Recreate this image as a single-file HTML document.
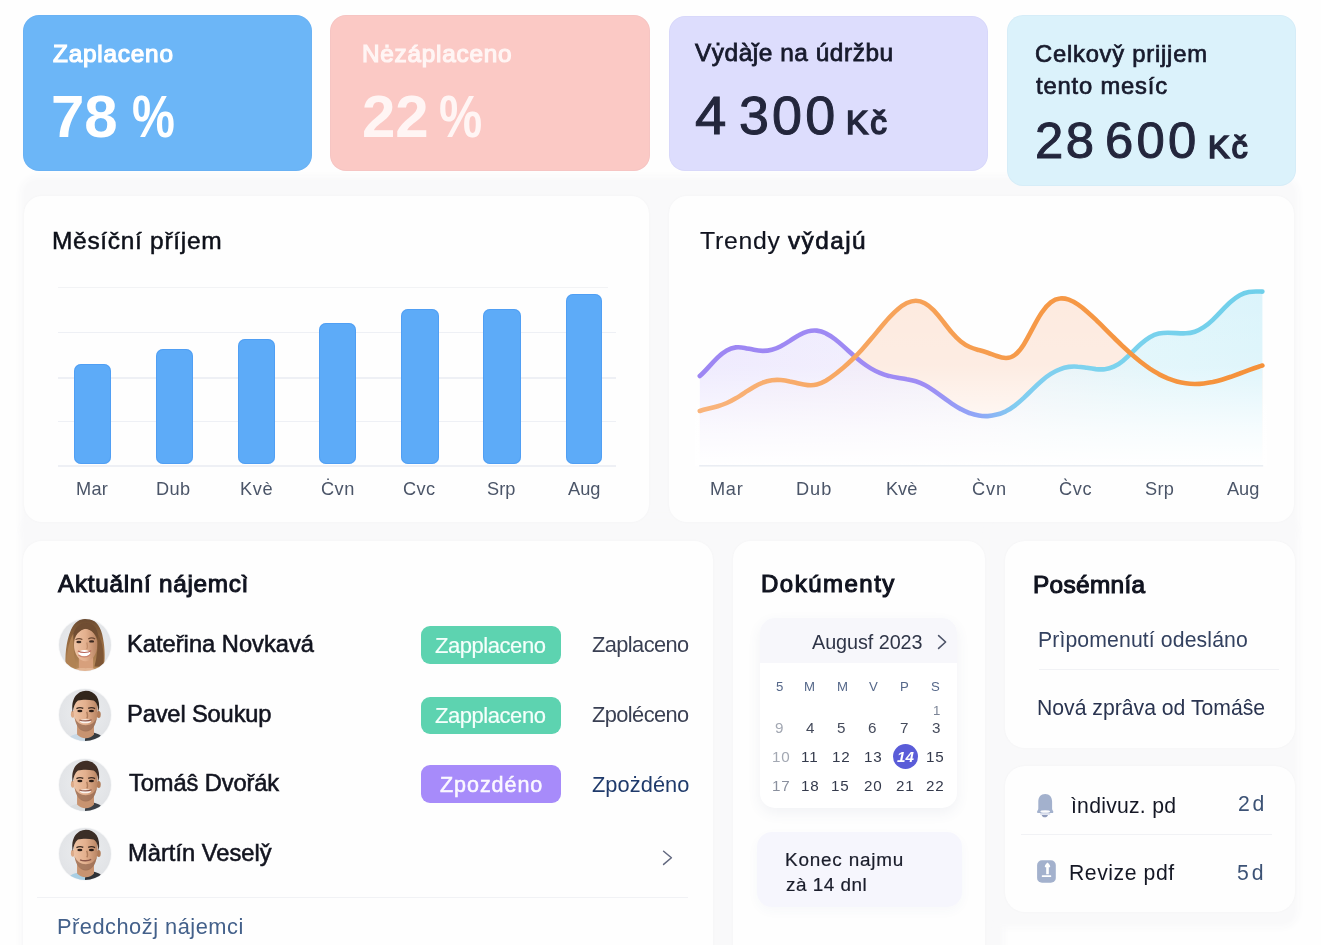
<!DOCTYPE html>
<html lang="cs">
<head>
<meta charset="utf-8">
<title>Přehled nájmů</title>
<style>
*{box-sizing:border-box}
html,body{margin:0;padding:0}
body{width:1321px;height:945px;overflow:hidden;position:relative;background:#fefefe;
  font-family:"Liberation Sans",sans-serif;-webkit-font-smoothing:antialiased}
.t{position:absolute;white-space:pre;line-height:1;margin:0;font-weight:400}
.stat,.card,.abs{position:absolute}
.stat{border-radius:16px;box-shadow:inset 0 0 0 1px rgba(40,60,120,.025)}
.card{background:#fefefe;border-radius:18px;box-shadow:0 0 3px rgba(40,45,70,.03)}
.back{position:absolute;border-radius:14px;background:#f9f9fa;box-shadow:0 0 7px 4px #f9f9fa}
.bar{position:absolute;background:#5dabf8;border-radius:7px;box-shadow:inset 0 0 0 1px rgba(70,150,240,.55)}
.grid{position:absolute;height:1.3px;background:#eef0f5}
.rule{position:absolute;height:1.2px;background:#f1f2f5}
.badge{position:absolute;border-radius:9px}
.ava{position:absolute;width:54px;height:54px}
svg{display:block;overflow:visible}
</style>
</head>
<body>
<div class="back" style="left:24px;top:180px;width:1271px;height:360px"></div>
<div class="back" style="left:24px;top:520px;width:976px;height:460px"></div>
<div class="back" style="left:990px;top:520px;width:305px;height:404px"></div>
<section class="stat" style="left:23px;top:15.4px;width:289.2px;height:155.4px;background:#6cb6f7">
<h3 class="t" style="left:30px;top:26.6px;font-size:24.3px;color:#ffffff;letter-spacing:0.81px;-webkit-text-stroke:1.2px #ffffff;">Zaplaceno</h3>
<p class="t" style="left:0;top:0"><span class="t" style="left:28px;top:71.6px;font-size:60px;color:#ffffff;font-weight:700;">78</span> <span class="t" style="left:109px;top:71.6px;font-size:60px;color:#ffffff;font-weight:700;transform:scaleX(0.804);transform-origin:0 0;">%</span></p>
</section>
<section class="stat" style="left:330.2px;top:15.4px;width:319.4px;height:155.2px;background:#fbc9c5">
<h3 class="t" style="left:31.8px;top:26.6px;font-size:24.3px;color:#fff5f4;letter-spacing:0.77px;-webkit-text-stroke:1.2px #fff5f4;">Nėzáplaceno</h3>
<p class="t" style="left:0;top:0"><span class="t" style="left:31.8px;top:71.6px;font-size:60px;color:#fff5f4;font-weight:700;">22</span> <span class="t" style="left:108.8px;top:71.6px;font-size:60px;color:#fff5f4;font-weight:700;transform:scaleX(0.81);transform-origin:0 0;">%</span></p>
</section>
<section class="stat" style="left:669.2px;top:15.5px;width:318.4px;height:155.1px;background:#ddddfd">
<h3 class="t" style="left:25.8px;top:25.5px;font-size:24.4px;color:#171a2c;letter-spacing:0.55px;-webkit-text-stroke:0.8px #171a2c;">Vẏdàǰe na údržbu</h3>
<p class="t" style="left:0;top:0"><span class="t" style="left:25.8px;top:73.5px;font-size:53.9px;color:#23263c;-webkit-text-stroke:1px #23263c;transform:scaleX(1.045);transform-origin:0 0;">4</span> <span class="t" style="left:69.8px;top:73.5px;font-size:53.9px;color:#23263c;letter-spacing:3.16px;-webkit-text-stroke:1px #23263c;">300</span> <span class="t" style="left:176.8px;top:90.5px;font-size:33.2px;color:#23263c;letter-spacing:2.12px;-webkit-text-stroke:1.7px #23263c;">Kč</span></p>
</section>
<section class="stat" style="left:1007.3px;top:15.4px;width:288.6px;height:170.2px;background:#dbf2fb">
<h3 class="t" style="left:0;top:0"><span class="t" style="left:27.7px;top:26.6px;font-size:23.8px;color:#171a2c;letter-spacing:0.76px;-webkit-text-stroke:0.7px #171a2c;">Celkovy̌ prijjem</span> <span class="t" style="left:28.7px;top:58.6px;font-size:23.8px;color:#171a2c;letter-spacing:0.81px;-webkit-text-stroke:0.7px #171a2c;">tento mesíc</span></h3>
<p class="t" style="left:0;top:0"><span class="t" style="left:27.7px;top:100.6px;font-size:50.8px;color:#23263c;letter-spacing:2.42px;-webkit-text-stroke:1px #23263c;">28</span> <span class="t" style="left:97.7px;top:100.6px;font-size:50.8px;color:#23263c;letter-spacing:3.27px;-webkit-text-stroke:1px #23263c;">600</span> <span class="t" style="left:200.7px;top:115.6px;font-size:32.2px;color:#23263c;letter-spacing:2.1px;-webkit-text-stroke:1.7px #23263c;">Kč</span></p>
</section>
<section class="card" style="left:23.5px;top:196.2px;width:625.6px;height:325.6px">
<h2 class="t" style="left:28.5px;top:32.8px;font-size:24.5px;color:#0d1019;letter-spacing:0.69px;-webkit-text-stroke:0.5px #0d1019;">Měsíční příjem</h2>
<div class="grid" style="left:34.5px;top:90.6px;width:550px;background:#f2f3f5"></div>
<div class="grid" style="left:34.5px;top:135.7px;width:558px"></div>
<div class="grid" style="left:34.5px;top:181.2px;width:558px"></div>
<div class="grid" style="left:34.5px;top:224.6px;width:558px"></div>
<div class="grid" style="left:34.5px;top:269.2px;width:558px"></div>
<div class="bar" style="left:50.5px;top:168.3px;width:37px;height:99.7px"></div>
<div class="bar" style="left:132.5px;top:153.3px;width:37px;height:114.7px"></div>
<div class="bar" style="left:214.5px;top:143.3px;width:37px;height:124.7px"></div>
<div class="bar" style="left:295.9px;top:126.8px;width:36.9px;height:141.2px"></div>
<div class="bar" style="left:377.3px;top:113px;width:38.2px;height:155px"></div>
<div class="bar" style="left:459.5px;top:113px;width:37.8px;height:155px"></div>
<div class="bar" style="left:542.4px;top:98.3px;width:36.3px;height:169.7px"></div>
<span class="t" style="left:52.5px;top:283.8px;font-size:18.2px;color:#4b5568;letter-spacing:0.28px;">Mar</span>
<span class="t" style="left:132.5px;top:283.8px;font-size:18.2px;color:#4b5568;letter-spacing:0.34px;">Dub</span>
<span class="t" style="left:216.5px;top:283.8px;font-size:18.2px;color:#4b5568;letter-spacing:0.67px;">Kvè</span>
<span class="t" style="left:297.5px;top:283.8px;font-size:18.2px;color:#4b5568;letter-spacing:0.45px;">Ċvn</span>
<span class="t" style="left:379.5px;top:283.8px;font-size:18.2px;color:#4b5568;letter-spacing:0.43px;">Cvc</span>
<span class="t" style="left:463.5px;top:283.8px;font-size:18.2px;color:#4b5568;">Srp</span>
<span class="t" style="left:544.5px;top:283.8px;font-size:18.2px;color:#4b5568;">Aug</span>
</section>
<section class="card" style="left:668.8px;top:196.2px;width:625.6px;height:325.6px">
<h2 class="t" style="left:0;top:0"><span class="t" style="left:31.2px;top:32.8px;font-size:24.8px;color:#10131f;letter-spacing:0.74px;-webkit-text-stroke:0.15px #10131f;">Trendy</span> <span class="t" style="left:119.2px;top:32.8px;font-size:24.4px;color:#10131f;letter-spacing:1.42px;-webkit-text-stroke:0.7px #10131f;">vy̌dajú</span></h2>
<svg class="abs" style="left:0;top:0" width="625.6" height="325.6" viewBox="668.8 196.2 625.6 325.6">
<defs>
<linearGradient id="gl" gradientUnits="userSpaceOnUse" x1="699" y1="0" x2="1263" y2="0">
<stop offset="0" stop-color="#9d86f3"/><stop offset=".40" stop-color="#9f8cf4"/><stop offset=".50" stop-color="#8fa9f7"/>
<stop offset=".56" stop-color="#82cdf0"/><stop offset=".7" stop-color="#7dd3ee"/><stop offset="1" stop-color="#6fcfea"/>
</linearGradient>
<linearGradient id="go" gradientUnits="userSpaceOnUse" x1="699" y1="0" x2="1263" y2="0">
<stop offset="0" stop-color="#f9b47c"/><stop offset=".3" stop-color="#f7a55e"/><stop offset=".6" stop-color="#f69947"/><stop offset="1" stop-color="#f5913a"/>
</linearGradient>
<linearGradient id="fl" gradientUnits="userSpaceOnUse" x1="699" y1="0" x2="1263" y2="0">
<stop offset="0" stop-color="#ebe6fe" stop-opacity=".9"/><stop offset=".3" stop-color="#eeeafd" stop-opacity=".85"/><stop offset=".5" stop-color="#eef0fc" stop-opacity=".8"/>
<stop offset=".62" stop-color="#e4f4fb" stop-opacity=".85"/><stop offset=".8" stop-color="#def5fb" stop-opacity=".95"/><stop offset="1" stop-color="#dbf4fb"/>
</linearGradient>
<linearGradient id="fade" x1="0" y1="0" x2="0" y2="1">
<stop offset="0" stop-color="#fff" stop-opacity="0"/><stop offset=".45" stop-color="#fff" stop-opacity=".12"/><stop offset=".8" stop-color="#fff" stop-opacity=".75"/><stop offset="1" stop-color="#fff" stop-opacity="1"/>
</linearGradient>
</defs>
<path d="M699.6,411.2 C702.6,410.2 705.6,409.5 708.6,408.8 C711.6,408.1 714.6,407.4 717.6,406.5 C720.6,405.6 723.6,404.5 726.6,403.2 C729.6,401.9 732.6,400.3 735.6,398.5 C738.6,396.8 741.6,394.8 744.6,392.8 C747.6,390.9 750.6,388.9 753.6,387.2 C756.6,385.4 759.6,383.9 762.6,382.8 C765.6,381.6 768.6,380.9 771.6,380.4 C774.6,380.0 777.6,380.0 780.6,380.2 C783.6,380.4 786.6,380.9 789.6,381.6 C792.6,382.2 795.6,383.0 798.6,383.7 C801.6,384.4 804.6,385.0 807.6,385.3 C810.6,385.6 813.6,385.5 816.6,384.8 C819.6,384.1 822.6,382.7 825.6,381.0 C828.6,379.2 831.6,377.0 834.6,374.7 C837.6,372.4 840.6,369.9 843.6,367.4 C846.6,364.8 849.6,362.1 852.6,359.2 C855.6,356.3 858.6,353.2 861.6,349.9 C864.6,346.6 867.6,343.1 870.6,339.5 C873.6,336.0 876.6,332.3 879.6,328.7 C882.6,325.1 885.6,321.5 888.6,318.2 C891.6,315.0 894.6,311.9 897.6,309.4 C900.6,306.8 903.6,304.7 906.6,303.2 C909.6,301.8 912.6,300.9 915.6,300.9 C918.6,300.9 921.6,301.7 924.6,303.4 C927.6,305.0 930.6,307.5 933.6,310.6 C936.6,313.8 939.6,317.5 942.6,321.4 C945.6,325.2 948.6,329.2 951.6,332.7 C954.6,336.2 957.6,339.2 960.6,341.7 C963.6,344.1 966.6,345.9 969.6,347.2 C972.6,348.6 975.6,349.4 978.6,350.3 C981.6,351.1 984.6,352.0 987.6,353.0 C990.6,354.0 993.6,355.2 996.6,356.2 C999.6,357.3 1002.6,358.2 1005.6,358.2 C1008.6,358.3 1011.6,357.5 1014.6,355.2 C1017.6,353.0 1020.6,349.3 1023.6,344.6 C1026.6,339.8 1029.6,334.0 1032.6,328.3 C1035.6,322.6 1038.6,317.1 1041.6,312.7 C1044.6,308.2 1047.6,304.9 1050.6,302.6 C1053.6,300.3 1056.6,299.0 1059.6,298.7 C1062.6,298.3 1065.6,298.8 1068.6,299.8 C1071.6,300.9 1074.6,302.6 1077.6,304.6 C1080.6,306.6 1083.6,309.0 1086.6,311.6 C1089.6,314.2 1092.6,317.0 1095.6,319.9 C1098.6,322.8 1101.6,325.8 1104.6,328.8 C1107.6,331.8 1110.6,334.8 1113.6,337.7 C1116.6,340.7 1119.6,343.6 1122.6,346.5 C1125.6,349.3 1128.6,352.1 1131.6,354.7 C1134.6,357.3 1137.6,359.8 1140.6,362.2 C1143.6,364.5 1146.6,366.7 1149.6,368.8 C1152.6,370.8 1155.6,372.6 1158.6,374.3 C1161.6,375.9 1164.6,377.3 1167.6,378.6 C1170.6,379.8 1173.6,380.9 1176.6,381.7 C1179.6,382.5 1182.6,383.1 1185.6,383.5 C1188.6,384.0 1191.6,384.2 1194.6,384.2 C1197.6,384.2 1200.6,384.1 1203.6,383.7 C1206.6,383.4 1209.6,382.9 1212.6,382.3 C1215.6,381.6 1218.6,380.8 1221.6,379.9 C1224.6,379.0 1227.6,378.0 1230.6,377.0 C1233.6,375.9 1236.6,374.8 1239.6,373.7 C1242.6,372.5 1245.6,371.4 1248.6,370.3 C1251.6,369.2 1254.6,368.1 1257.6,367.2 C1259.1,366.7 1260.7,366.2 1262.2,365.8 L1262.2,466 L699.6,466 Z" fill="#fdeadf"/>
<path d="M699.6,376.3 C702.6,373.7 705.6,370.4 708.6,367.1 C711.6,363.7 714.6,360.4 717.6,357.5 C720.6,354.6 723.6,352.3 726.6,350.6 C729.6,348.9 732.6,348.0 735.6,347.6 C738.6,347.3 741.6,347.6 744.6,348.1 C747.6,348.7 750.6,349.4 753.6,350.0 C756.6,350.6 759.6,351.0 762.6,351.1 C765.6,351.1 768.6,350.8 771.6,350.0 C774.6,349.2 777.6,348.0 780.6,346.4 C783.6,344.9 786.6,343.0 789.6,341.1 C792.6,339.1 795.6,337.1 798.6,335.5 C801.6,333.8 804.6,332.4 807.6,331.6 C810.6,330.8 813.6,330.5 816.6,330.8 C819.6,331.1 822.6,332.0 825.6,333.5 C828.6,334.9 831.6,336.9 834.6,339.2 C837.6,341.5 840.6,344.1 843.6,346.8 C846.6,349.5 849.6,352.3 852.6,355.0 C855.6,357.6 858.6,360.1 861.6,362.5 C864.6,364.8 867.6,366.8 870.6,368.6 C873.6,370.4 876.6,371.9 879.6,373.1 C882.6,374.4 885.6,375.4 888.6,376.1 C891.6,376.9 894.6,377.5 897.6,377.9 C900.6,378.4 903.6,378.8 906.6,379.4 C909.6,379.9 912.6,380.5 915.6,381.4 C918.6,382.3 921.6,383.6 924.6,385.2 C927.6,386.7 930.6,388.7 933.6,390.8 C936.6,392.9 939.6,395.1 942.6,397.4 C945.6,399.6 948.6,401.8 951.6,403.8 C954.6,405.8 957.6,407.7 960.6,409.3 C963.6,411.0 966.6,412.4 969.6,413.4 C972.6,414.5 975.6,415.3 978.6,415.8 C981.6,416.3 984.6,416.4 987.6,416.3 C990.6,416.1 993.6,415.6 996.6,414.8 C999.6,414.1 1002.6,412.9 1005.6,411.5 C1008.6,410.0 1011.6,408.1 1014.6,405.8 C1017.6,403.6 1020.6,400.9 1023.6,398.1 C1026.6,395.2 1029.6,392.2 1032.6,389.3 C1035.6,386.3 1038.6,383.5 1041.6,380.9 C1044.6,378.3 1047.6,376.0 1050.6,374.1 C1053.6,372.2 1056.6,370.6 1059.6,369.5 C1062.6,368.3 1065.6,367.5 1068.6,367.1 C1071.6,366.7 1074.6,366.7 1077.6,366.9 C1080.6,367.0 1083.6,367.5 1086.6,367.9 C1089.6,368.4 1092.6,368.9 1095.6,369.3 C1098.6,369.6 1101.6,369.8 1104.6,369.4 C1107.6,369.1 1110.6,368.3 1113.6,366.9 C1116.6,365.5 1119.6,363.6 1122.6,361.1 C1125.6,358.7 1128.6,355.9 1131.6,352.9 C1134.6,349.9 1137.6,346.9 1140.6,344.2 C1143.6,341.5 1146.6,339.2 1149.6,337.4 C1152.6,335.7 1155.6,334.5 1158.6,333.8 C1161.6,333.1 1164.6,332.9 1167.6,332.9 C1170.6,332.9 1173.6,333.1 1176.6,333.3 C1179.6,333.5 1182.6,333.7 1185.6,333.5 C1188.6,333.4 1191.6,332.9 1194.6,331.9 C1197.6,330.9 1200.6,329.4 1203.6,327.4 C1206.6,325.4 1209.6,322.9 1212.6,320.0 C1215.6,317.1 1218.6,314.0 1221.6,310.8 C1224.6,307.7 1227.6,304.6 1230.6,302.0 C1233.6,299.4 1236.6,297.2 1239.6,295.5 C1242.6,293.9 1245.6,292.9 1248.6,292.3 C1251.6,291.7 1254.6,291.6 1257.6,291.7 C1259.1,291.7 1260.7,291.8 1262.2,291.8 L1262.2,466 L699.6,466 Z" fill="url(#fl)"/>
<rect x="695" y="285" width="572" height="181" fill="url(#fade)"/>
<rect x="699" y="465.4" width="564" height="1.3" fill="#e6eaf1"/>
<path d="M699.6,376.3 C702.6,373.7 705.6,370.4 708.6,367.1 C711.6,363.7 714.6,360.4 717.6,357.5 C720.6,354.6 723.6,352.3 726.6,350.6 C729.6,348.9 732.6,348.0 735.6,347.6 C738.6,347.3 741.6,347.6 744.6,348.1 C747.6,348.7 750.6,349.4 753.6,350.0 C756.6,350.6 759.6,351.0 762.6,351.1 C765.6,351.1 768.6,350.8 771.6,350.0 C774.6,349.2 777.6,348.0 780.6,346.4 C783.6,344.9 786.6,343.0 789.6,341.1 C792.6,339.1 795.6,337.1 798.6,335.5 C801.6,333.8 804.6,332.4 807.6,331.6 C810.6,330.8 813.6,330.5 816.6,330.8 C819.6,331.1 822.6,332.0 825.6,333.5 C828.6,334.9 831.6,336.9 834.6,339.2 C837.6,341.5 840.6,344.1 843.6,346.8 C846.6,349.5 849.6,352.3 852.6,355.0 C855.6,357.6 858.6,360.1 861.6,362.5 C864.6,364.8 867.6,366.8 870.6,368.6 C873.6,370.4 876.6,371.9 879.6,373.1 C882.6,374.4 885.6,375.4 888.6,376.1 C891.6,376.9 894.6,377.5 897.6,377.9 C900.6,378.4 903.6,378.8 906.6,379.4 C909.6,379.9 912.6,380.5 915.6,381.4 C918.6,382.3 921.6,383.6 924.6,385.2 C927.6,386.7 930.6,388.7 933.6,390.8 C936.6,392.9 939.6,395.1 942.6,397.4 C945.6,399.6 948.6,401.8 951.6,403.8 C954.6,405.8 957.6,407.7 960.6,409.3 C963.6,411.0 966.6,412.4 969.6,413.4 C972.6,414.5 975.6,415.3 978.6,415.8 C981.6,416.3 984.6,416.4 987.6,416.3 C990.6,416.1 993.6,415.6 996.6,414.8 C999.6,414.1 1002.6,412.9 1005.6,411.5 C1008.6,410.0 1011.6,408.1 1014.6,405.8 C1017.6,403.6 1020.6,400.9 1023.6,398.1 C1026.6,395.2 1029.6,392.2 1032.6,389.3 C1035.6,386.3 1038.6,383.5 1041.6,380.9 C1044.6,378.3 1047.6,376.0 1050.6,374.1 C1053.6,372.2 1056.6,370.6 1059.6,369.5 C1062.6,368.3 1065.6,367.5 1068.6,367.1 C1071.6,366.7 1074.6,366.7 1077.6,366.9 C1080.6,367.0 1083.6,367.5 1086.6,367.9 C1089.6,368.4 1092.6,368.9 1095.6,369.3 C1098.6,369.6 1101.6,369.8 1104.6,369.4 C1107.6,369.1 1110.6,368.3 1113.6,366.9 C1116.6,365.5 1119.6,363.6 1122.6,361.1 C1125.6,358.7 1128.6,355.9 1131.6,352.9 C1134.6,349.9 1137.6,346.9 1140.6,344.2 C1143.6,341.5 1146.6,339.2 1149.6,337.4 C1152.6,335.7 1155.6,334.5 1158.6,333.8 C1161.6,333.1 1164.6,332.9 1167.6,332.9 C1170.6,332.9 1173.6,333.1 1176.6,333.3 C1179.6,333.5 1182.6,333.7 1185.6,333.5 C1188.6,333.4 1191.6,332.9 1194.6,331.9 C1197.6,330.9 1200.6,329.4 1203.6,327.4 C1206.6,325.4 1209.6,322.9 1212.6,320.0 C1215.6,317.1 1218.6,314.0 1221.6,310.8 C1224.6,307.7 1227.6,304.6 1230.6,302.0 C1233.6,299.4 1236.6,297.2 1239.6,295.5 C1242.6,293.9 1245.6,292.9 1248.6,292.3 C1251.6,291.7 1254.6,291.6 1257.6,291.7 C1259.1,291.7 1260.7,291.8 1262.2,291.8" fill="none" stroke="url(#gl)" stroke-width="4.6" stroke-linecap="round" stroke-linejoin="round"/>
<path d="M699.6,411.2 C702.6,410.2 705.6,409.5 708.6,408.8 C711.6,408.1 714.6,407.4 717.6,406.5 C720.6,405.6 723.6,404.5 726.6,403.2 C729.6,401.9 732.6,400.3 735.6,398.5 C738.6,396.8 741.6,394.8 744.6,392.8 C747.6,390.9 750.6,388.9 753.6,387.2 C756.6,385.4 759.6,383.9 762.6,382.8 C765.6,381.6 768.6,380.9 771.6,380.4 C774.6,380.0 777.6,380.0 780.6,380.2 C783.6,380.4 786.6,380.9 789.6,381.6 C792.6,382.2 795.6,383.0 798.6,383.7 C801.6,384.4 804.6,385.0 807.6,385.3 C810.6,385.6 813.6,385.5 816.6,384.8 C819.6,384.1 822.6,382.7 825.6,381.0 C828.6,379.2 831.6,377.0 834.6,374.7 C837.6,372.4 840.6,369.9 843.6,367.4 C846.6,364.8 849.6,362.1 852.6,359.2 C855.6,356.3 858.6,353.2 861.6,349.9 C864.6,346.6 867.6,343.1 870.6,339.5 C873.6,336.0 876.6,332.3 879.6,328.7 C882.6,325.1 885.6,321.5 888.6,318.2 C891.6,315.0 894.6,311.9 897.6,309.4 C900.6,306.8 903.6,304.7 906.6,303.2 C909.6,301.8 912.6,300.9 915.6,300.9 C918.6,300.9 921.6,301.7 924.6,303.4 C927.6,305.0 930.6,307.5 933.6,310.6 C936.6,313.8 939.6,317.5 942.6,321.4 C945.6,325.2 948.6,329.2 951.6,332.7 C954.6,336.2 957.6,339.2 960.6,341.7 C963.6,344.1 966.6,345.9 969.6,347.2 C972.6,348.6 975.6,349.4 978.6,350.3 C981.6,351.1 984.6,352.0 987.6,353.0 C990.6,354.0 993.6,355.2 996.6,356.2 C999.6,357.3 1002.6,358.2 1005.6,358.2 C1008.6,358.3 1011.6,357.5 1014.6,355.2 C1017.6,353.0 1020.6,349.3 1023.6,344.6 C1026.6,339.8 1029.6,334.0 1032.6,328.3 C1035.6,322.6 1038.6,317.1 1041.6,312.7 C1044.6,308.2 1047.6,304.9 1050.6,302.6 C1053.6,300.3 1056.6,299.0 1059.6,298.7 C1062.6,298.3 1065.6,298.8 1068.6,299.8 C1071.6,300.9 1074.6,302.6 1077.6,304.6 C1080.6,306.6 1083.6,309.0 1086.6,311.6 C1089.6,314.2 1092.6,317.0 1095.6,319.9 C1098.6,322.8 1101.6,325.8 1104.6,328.8 C1107.6,331.8 1110.6,334.8 1113.6,337.7 C1116.6,340.7 1119.6,343.6 1122.6,346.5 C1125.6,349.3 1128.6,352.1 1131.6,354.7 C1134.6,357.3 1137.6,359.8 1140.6,362.2 C1143.6,364.5 1146.6,366.7 1149.6,368.8 C1152.6,370.8 1155.6,372.6 1158.6,374.3 C1161.6,375.9 1164.6,377.3 1167.6,378.6 C1170.6,379.8 1173.6,380.9 1176.6,381.7 C1179.6,382.5 1182.6,383.1 1185.6,383.5 C1188.6,384.0 1191.6,384.2 1194.6,384.2 C1197.6,384.2 1200.6,384.1 1203.6,383.7 C1206.6,383.4 1209.6,382.9 1212.6,382.3 C1215.6,381.6 1218.6,380.8 1221.6,379.9 C1224.6,379.0 1227.6,378.0 1230.6,377.0 C1233.6,375.9 1236.6,374.8 1239.6,373.7 C1242.6,372.5 1245.6,371.4 1248.6,370.3 C1251.6,369.2 1254.6,368.1 1257.6,367.2 C1259.1,366.7 1260.7,366.2 1262.2,365.8" fill="none" stroke="url(#go)" stroke-width="4.6" stroke-linecap="round" stroke-linejoin="round"/>
</svg>
<span class="t" style="left:41.2px;top:283.8px;font-size:18.2px;color:#4b5568;letter-spacing:0.73px;">Mar</span>
<span class="t" style="left:127.2px;top:283.8px;font-size:18.2px;color:#4b5568;letter-spacing:0.99px;">Dub</span>
<span class="t" style="left:217.2px;top:283.8px;font-size:18.2px;color:#4b5568;">Kvè</span>
<span class="t" style="left:303.2px;top:283.8px;font-size:18.2px;color:#4b5568;letter-spacing:0.85px;">C̀vn</span>
<span class="t" style="left:390.2px;top:283.8px;font-size:18.2px;color:#4b5568;letter-spacing:0.68px;">C̀vc</span>
<span class="t" style="left:476.2px;top:283.8px;font-size:18.2px;color:#4b5568;letter-spacing:0.35px;">Srp</span>
<span class="t" style="left:558.2px;top:283.8px;font-size:18.2px;color:#4b5568;">Aug</span>
</section>
<section class="card" style="left:23px;top:541.3px;width:690px;height:440px;border-radius:19px">
<h2 class="t" style="left:35px;top:30.7px;font-size:24.3px;color:#10131f;letter-spacing:0.71px;-webkit-text-stroke:1px #10131f;">Aktuǎlní nájemcì</h2>
<div class="ava" style="left:34.6px;top:76.7px"><svg width="54" height="54" viewBox="0 0 54 54" role="img"><defs><clipPath id="ac0"><circle cx="27" cy="27" r="26"/></clipPath><filter id="ab0" x="-10%" y="-10%" width="120%" height="120%"><feGaussianBlur stdDeviation=".7"/></filter><radialGradient id="ag0" cx=".5" cy=".45" r=".6"><stop offset="0" stop-color="#eceef0"/><stop offset=".8" stop-color="#e2e4e7"/><stop offset="1" stop-color="#dcdfe2"/></radialGradient><linearGradient id="as0" x1="0" y1="0" x2="1" y2="0"><stop offset="0" stop-color="#eec3a4"/><stop offset=".5" stop-color="#e3b08e"/><stop offset="1" stop-color="#b98563"/></linearGradient><linearGradient id="ah0" x1="0" y1="0" x2="0" y2="1"><stop offset="0" stop-color="#6a4a30"/><stop offset=".45" stop-color="#94683f"/><stop offset="1" stop-color="#b88a5a"/></linearGradient></defs><circle cx="27" cy="27" r="26.8" fill="#f6f7f8"/><g clip-path="url(#ac0)"><rect width="54" height="54" fill="url(#ag0)"/><g filter="url(#ab0)"><g transform="translate(27 30) scale(1.1) translate(-27 -30)"><path d="M9.5 49 C8.6 38 9.6 24 14.2 13.6 C17.4 6.2 23.4 3 28.4 3.2 C35.2 3.4 40.4 8.6 42.6 17.6 C44.8 27 45.6 38 44.4 46 L40 49 Z" fill="url(#ah0)"/><path d="M21.4 38 H34.4 V56 H21.4 Z" fill="#d7a07c"/><path d="M12 56 C14 49.4 21 47.4 27.6 48.4 C34 47.4 40 49 42.6 56 Z" fill="#e3b593"/><ellipse cx="27.6" cy="27.2" rx="10.6" ry="14.8" fill="url(#as0)"/><path d="M15.6 25.4 C15 13.4 21 7.2 28.2 7.2 C35 7.2 39.8 12.6 39.2 24.6 C37.6 18.2 34 13.2 27.2 12.4 C21.6 13.6 17.6 18.6 15.6 25.4 Z" fill="#6f4d31"/><path d="M11 48.6 C9.6 37 11.8 24.6 16.4 17 C16.4 28 16.8 38.6 19.6 47.6 Z" fill="#b18253"/><path d="M43.6 47 C45 36 43.2 24.4 38.6 17 C38.8 28 38 38 35.6 46.8 Z" fill="#7e5735"/><ellipse cx="26.4" cy="34.6" rx="5.4" ry="2.7" fill="#fff"/><path d="M20.6 32.8 C23.6 34.6 29.8 34.6 32.6 32.4" fill="none" stroke="#b8675a" stroke-width="1.1"/><path d="M21 36.4 C24 39 29.4 38.8 32 35.8" fill="none" stroke="#c98470" stroke-width="1"/><ellipse cx="21.4" cy="24.6" rx="2.3" ry="1.1" fill="#3b2920"/><ellipse cx="33" cy="24" rx="2.3" ry="1.1" fill="#3b2920"/><path d="M18.4 22.4 C20 21.4 23 21.4 24.6 22.2 M30 21.8 C31.6 20.8 34.6 20.8 36.2 21.8" stroke="#6a4630" stroke-width="1" fill="none"/><path d="M28.6 25 C29.4 28 29.6 30 28.4 31" stroke="#c48f6c" stroke-width="1.2" fill="none"/></g></g></g></svg></div>
<span class="t" style="left:104px;top:91.7px;font-size:23.7px;color:#12141f;-webkit-text-stroke:0.55px #12141f;">Kateřina Novkavá</span>
<div class="ava" style="left:34.6px;top:146.9px"><svg width="54" height="54" viewBox="0 0 54 54" role="img"><defs><clipPath id="ac1"><circle cx="27" cy="27" r="26"/></clipPath><filter id="ab1" x="-10%" y="-10%" width="120%" height="120%"><feGaussianBlur stdDeviation=".7"/></filter><radialGradient id="ag1" cx=".5" cy=".45" r=".6"><stop offset="0" stop-color="#eceef0"/><stop offset=".8" stop-color="#e2e4e7"/><stop offset="1" stop-color="#dcdfe2"/></radialGradient><linearGradient id="as1" x1="0" y1="0" x2="1" y2="0"><stop offset="0" stop-color="#eec3a4"/><stop offset=".5" stop-color="#e3b08e"/><stop offset="1" stop-color="#b98563"/></linearGradient><linearGradient id="ah1" x1="0" y1="0" x2="0" y2="1"><stop offset="0" stop-color="#6a4a30"/><stop offset=".45" stop-color="#94683f"/><stop offset="1" stop-color="#b88a5a"/></linearGradient></defs><circle cx="27" cy="27" r="26.8" fill="#f6f7f8"/><g clip-path="url(#ac1)"><rect width="54" height="54" fill="url(#ag1)"/><g filter="url(#ab1)"><g transform="translate(27 29) scale(1.07) translate(-27 -30)"><path d="M8 56 C10 49 15.6 46.2 21 45.4 L27 50 V56 Z" fill="#c9d9e6"/><path d="M27 56 V50 L34.4 44.6 C40 45.6 45 48.6 47.4 56 Z" fill="#343a40"/><path d="M19.6 36 H35.4 V46.4 C32 51 23.4 51 19.6 46.4 Z" fill="#c8936f"/><ellipse cx="15.6" cy="27.4" rx="1.8" ry="3.2" fill="#dcaa88"/><ellipse cx="39.8" cy="27.6" rx="1.9" ry="3.3" fill="#b07b59"/><path d="M16.4 24 C16 15 20.4 9.6 27.6 9.6 C34.8 9.6 39.2 15 38.8 24 C38.6 31 37 37 33.4 40.6 C30.6 43.2 24.8 43.2 22 40.6 C18.4 37 16.6 31 16.4 24 Z" fill="url(#as1)"/><path d="M15.6 25.6 C13.4 13 19.6 5.6 27.8 5.4 C36.4 5.4 42 12.6 39.8 25.4 C39.2 20.4 38 16.4 35 14.6 C30 13.4 24.4 13.6 20.4 14.6 C17.6 16.6 16.2 20.6 15.6 25.6 Z" fill="#33261f"/><path d="M17.2 30 C18.4 38.6 22.6 43.6 27.8 43.6 C33 43.6 37 38.6 38.2 30 C36.4 35.4 32.6 37.6 27.8 37.6 C23 37.6 19.2 35.4 17.2 30 Z" fill="#9a6d54" fill-opacity=".8"/><ellipse cx="27.4" cy="34" rx="5" ry="1.9" fill="#fbf4ef"/><path d="M21.8 32.8 C24.6 34 30.4 34 33.2 32.6" fill="none" stroke="#94594a" stroke-width="1.1"/><ellipse cx="22.2" cy="24.4" rx="2.4" ry="1.15" fill="#2c1f19"/><ellipse cx="33" cy="24.4" rx="2.4" ry="1.15" fill="#2c1f19"/><path d="M19 22.2 C20.8 21.2 23.8 21.2 25.4 22 M30 22 C31.6 21.2 34.6 21.2 36.4 22.2" stroke="#3e2b22" stroke-width="1.2" fill="none"/><path d="M28.6 25 C29.6 28 29.8 30 28.6 31.2" stroke="#b07e5d" stroke-width="1.4" fill="none"/></g></g></g></svg></div>
<span class="t" style="left:104px;top:161.7px;font-size:23.7px;color:#12141f;letter-spacing:-0.15px;-webkit-text-stroke:0.55px #12141f;">Pavel Soukup</span>
<div class="ava" style="left:34.6px;top:216.7px"><svg width="54" height="54" viewBox="0 0 54 54" role="img"><defs><clipPath id="ac2"><circle cx="27" cy="27" r="26"/></clipPath><filter id="ab2" x="-10%" y="-10%" width="120%" height="120%"><feGaussianBlur stdDeviation=".7"/></filter><radialGradient id="ag2" cx=".5" cy=".45" r=".6"><stop offset="0" stop-color="#eceef0"/><stop offset=".8" stop-color="#e2e4e7"/><stop offset="1" stop-color="#dcdfe2"/></radialGradient><linearGradient id="as2" x1="0" y1="0" x2="1" y2="0"><stop offset="0" stop-color="#eec3a4"/><stop offset=".5" stop-color="#e3b08e"/><stop offset="1" stop-color="#b98563"/></linearGradient><linearGradient id="ah2" x1="0" y1="0" x2="0" y2="1"><stop offset="0" stop-color="#6a4a30"/><stop offset=".45" stop-color="#94683f"/><stop offset="1" stop-color="#b88a5a"/></linearGradient></defs><circle cx="27" cy="27" r="26.8" fill="#f6f7f8"/><g clip-path="url(#ac2)"><rect width="54" height="54" fill="url(#ag2)"/><g filter="url(#ab2)"><g transform="translate(27 29) scale(1.07) translate(-27 -30)"><path d="M8 56 C10 49 15.6 46.2 21 45.4 L27 50 V56 Z" fill="#d9dde0"/><path d="M27 56 V50 L34.4 44.6 C40 45.6 45 48.6 47.4 56 Z" fill="#3a4047"/><path d="M19.6 36 H35.4 V46.4 C32 51 23.4 51 19.6 46.4 Z" fill="#c8936f"/><ellipse cx="15.6" cy="27.4" rx="1.8" ry="3.2" fill="#dcaa88"/><ellipse cx="39.8" cy="27.6" rx="1.9" ry="3.3" fill="#b07b59"/><path d="M16.4 24 C16 15 20.4 9.6 27.6 9.6 C34.8 9.6 39.2 15 38.8 24 C38.6 31 37 37 33.4 40.6 C30.6 43.2 24.8 43.2 22 40.6 C18.4 37 16.6 31 16.4 24 Z" fill="url(#as2)"/><path d="M15.6 25.6 C13.4 13 19.6 5.6 27.8 5.4 C36.4 5.4 42 12.6 39.8 25.4 C39.2 20.4 38 16.4 35 14.6 C30 13.4 24.4 13.6 20.4 14.6 C17.6 16.6 16.2 20.6 15.6 25.6 Z" fill="#3f2f26"/><path d="M17.2 30 C18.4 38.6 22.6 43.6 27.8 43.6 C33 43.6 37 38.6 38.2 30 C36.4 35.4 32.6 37.6 27.8 37.6 C23 37.6 19.2 35.4 17.2 30 Z" fill="#9a6d54" fill-opacity=".8"/><ellipse cx="27.4" cy="34" rx="5" ry="1.9" fill="#fbf4ef"/><path d="M21.8 32.8 C24.6 34 30.4 34 33.2 32.6" fill="none" stroke="#94594a" stroke-width="1.1"/><ellipse cx="22.2" cy="24.4" rx="2.4" ry="1.15" fill="#2c1f19"/><ellipse cx="33" cy="24.4" rx="2.4" ry="1.15" fill="#2c1f19"/><path d="M19 22.2 C20.8 21.2 23.8 21.2 25.4 22 M30 22 C31.6 21.2 34.6 21.2 36.4 22.2" stroke="#3e2b22" stroke-width="1.2" fill="none"/><path d="M28.6 25 C29.6 28 29.8 30 28.6 31.2" stroke="#b07e5d" stroke-width="1.4" fill="none"/></g></g></g></svg></div>
<span class="t" style="left:106px;top:230.7px;font-size:23.7px;color:#12141f;letter-spacing:-0.11px;-webkit-text-stroke:0.55px #12141f;">Tomáŝ Dvořák</span>
<div class="ava" style="left:34.6px;top:285.7px"><svg width="54" height="54" viewBox="0 0 54 54" role="img"><defs><clipPath id="ac3"><circle cx="27" cy="27" r="26"/></clipPath><filter id="ab3" x="-10%" y="-10%" width="120%" height="120%"><feGaussianBlur stdDeviation=".7"/></filter><radialGradient id="ag3" cx=".5" cy=".45" r=".6"><stop offset="0" stop-color="#eceef0"/><stop offset=".8" stop-color="#e2e4e7"/><stop offset="1" stop-color="#dcdfe2"/></radialGradient><linearGradient id="as3" x1="0" y1="0" x2="1" y2="0"><stop offset="0" stop-color="#eec3a4"/><stop offset=".5" stop-color="#e3b08e"/><stop offset="1" stop-color="#b98563"/></linearGradient><linearGradient id="ah3" x1="0" y1="0" x2="0" y2="1"><stop offset="0" stop-color="#6a4a30"/><stop offset=".45" stop-color="#94683f"/><stop offset="1" stop-color="#b88a5a"/></linearGradient></defs><circle cx="27" cy="27" r="26.8" fill="#f6f7f8"/><g clip-path="url(#ac3)"><rect width="54" height="54" fill="url(#ag3)"/><g filter="url(#ab3)"><g transform="translate(27 29) scale(1.07) translate(-27 -30)"><path d="M8 56 C10 49 15.6 46.2 21 45.4 L27 50 V56 Z" fill="#a9cfe4"/><path d="M27 56 V50 L34.4 44.6 C40 45.6 45 48.6 47.4 56 Z" fill="#2f3337"/><path d="M19.6 36 H35.4 V46.4 C32 51 23.4 51 19.6 46.4 Z" fill="#c8936f"/><ellipse cx="15.6" cy="27.4" rx="1.8" ry="3.2" fill="#dcaa88"/><ellipse cx="39.8" cy="27.6" rx="1.9" ry="3.3" fill="#b07b59"/><path d="M16.4 24 C16 15 20.4 9.6 27.6 9.6 C34.8 9.6 39.2 15 38.8 24 C38.6 31 37 37 33.4 40.6 C30.6 43.2 24.8 43.2 22 40.6 C18.4 37 16.6 31 16.4 24 Z" fill="url(#as3)"/><path d="M15.6 25.6 C13.4 13 19.6 5.6 27.8 5.4 C36.4 5.4 42 12.6 39.8 25.4 C39.2 20.4 38 16.4 35 14.6 C30 13.4 24.4 13.6 20.4 14.6 C17.6 16.6 16.2 20.6 15.6 25.6 Z" fill="#3a2d27"/><path d="M17.2 30 C18.4 38.6 22.6 43.6 27.8 43.6 C33 43.6 37 38.6 38.2 30 C36.4 35.4 32.6 37.6 27.8 37.6 C23 37.6 19.2 35.4 17.2 30 Z" fill="#9a6d54" fill-opacity=".8"/><path d="M22.4 33.6 C25 34.8 30 34.8 32.8 33.2" fill="none" stroke="#8a5546" stroke-width="1.3"/><ellipse cx="22.2" cy="24.4" rx="2.4" ry="1.15" fill="#2c1f19"/><ellipse cx="33" cy="24.4" rx="2.4" ry="1.15" fill="#2c1f19"/><path d="M19 22.2 C20.8 21.2 23.8 21.2 25.4 22 M30 22 C31.6 21.2 34.6 21.2 36.4 22.2" stroke="#3e2b22" stroke-width="1.2" fill="none"/><path d="M28.6 25 C29.6 28 29.8 30 28.6 31.2" stroke="#b07e5d" stroke-width="1.4" fill="none"/></g></g></g></svg></div>
<span class="t" style="left:105px;top:300.7px;font-size:23.7px;color:#12141f;-webkit-text-stroke:0.55px #12141f;">Màrtín Vesely̌</span>
<div class="badge" style="left:398.2px;top:84.7px;width:139.6px;height:37.6px;background:#5dd3b0"></div>
<span class="t" style="left:412px;top:93.7px;font-size:22px;color:#f4fffb;letter-spacing:-0.45px;-webkit-text-stroke:0.2px #f4fffb;">Zapplaceno</span>
<span class="t" style="left:569px;top:92.7px;font-size:21.8px;color:#3a4053;letter-spacing:-0.57px;">Zaplaceno</span>
<div class="badge" style="left:398.2px;top:155.3px;width:139.6px;height:37.6px;background:#5dd3b0"></div>
<span class="t" style="left:412px;top:163.7px;font-size:22px;color:#f4fffb;letter-spacing:-0.45px;-webkit-text-stroke:0.2px #f4fffb;">Zapplaceno</span>
<span class="t" style="left:569px;top:162.7px;font-size:21.8px;color:#3a4053;letter-spacing:-0.57px;">Zpoléceno</span>
<div class="badge" style="left:398.2px;top:224.1px;width:139.6px;height:37.6px;background:#a78bfa"></div>
<span class="t" style="left:417px;top:233.7px;font-size:21.5px;color:#fbf8ff;letter-spacing:0.95px;-webkit-text-stroke:0.55px #fbf8ff;">Zpozdéno</span>
<span class="t" style="left:569px;top:232.7px;font-size:21.8px;color:#1f3a6b;letter-spacing:0.06px;">Zpożdéno</span>
<svg class="abs" style="left:638px;top:307.7px" width="14" height="18" viewBox="0 0 14 18"><path d="M2.6 2.2 L10.4 8.8 L2.6 15.4" fill="none" stroke="#62687f" stroke-width="1.5" stroke-linecap="round" stroke-linejoin="round"/></svg>
<div class="rule" style="left:14px;top:355.5px;width:651px"></div>
<span class="t" style="left:34px;top:374.7px;font-size:21.8px;color:#43608a;letter-spacing:0.51px;">Předchožj nájemci</span>
</section>
<section class="card" style="left:732.6px;top:541.3px;width:252.4px;height:440px">
<h2 class="t" style="left:28.4px;top:30.7px;font-size:24px;color:#10131f;letter-spacing:1.5px;-webkit-text-stroke:1.1px #10131f;">Dokúmenty</h2>
<div class="abs" style="left:27.4px;top:77.2px;width:196.8px;height:190px;border-radius:15px;background:#fff;box-shadow:0 5px 14px rgba(70,80,130,.07)"></div>
<div class="abs" style="left:27.4px;top:77.2px;width:196.8px;height:44.4px;border-radius:15px 15px 0 0;background:#f7f7fb"></div>
<span class="t" style="left:79.4px;top:91.7px;font-size:19.8px;color:#2f3547;letter-spacing:-0.05px;">Augusf 2023</span>
<svg class="abs" style="left:202.4px;top:91.7px" width="14" height="18" viewBox="0 0 14 18"><path d="M3.6 2.6 L10.6 9 L3.6 15.4" fill="none" stroke="#4d5468" stroke-width="1.6" stroke-linecap="round" stroke-linejoin="round"/></svg>
<div class="abs" style="left:160px;top:202.7px;width:25px;height:25px;border-radius:50%;background:#5a5cd8"></div>
<span class="t" style="left:43.4px;top:138.7px;font-size:13.2px;color:#56688a;">5</span>
<span class="t" style="left:71.4px;top:138.7px;font-size:13.2px;color:#56688a;">M</span>
<span class="t" style="left:104.4px;top:138.7px;font-size:13.2px;color:#56688a;">M</span>
<span class="t" style="left:136.4px;top:138.7px;font-size:13.2px;color:#56688a;">V</span>
<span class="t" style="left:167.4px;top:138.7px;font-size:13.2px;color:#56688a;">P</span>
<span class="t" style="left:198.4px;top:138.7px;font-size:13.2px;color:#56688a;">S</span>
<span class="t" style="left:200.4px;top:162.7px;font-size:13.2px;color:#7b8496;">1</span>
<span class="t" style="left:42.4px;top:178.7px;font-size:15.2px;color:#a3a8b3;">9</span>
<span class="t" style="left:73.4px;top:178.7px;font-size:15.2px;color:#454b5c;">4</span>
<span class="t" style="left:104.4px;top:178.7px;font-size:15.2px;color:#454b5c;">5</span>
<span class="t" style="left:135.4px;top:178.7px;font-size:15.2px;color:#454b5c;">6</span>
<span class="t" style="left:167.4px;top:178.7px;font-size:15.2px;color:#454b5c;">7</span>
<span class="t" style="left:199.4px;top:178.7px;font-size:15.2px;color:#454b5c;">3</span>
<span class="t" style="left:39.4px;top:207.7px;font-size:15.2px;color:#a3a8b3;letter-spacing:0.9px;">10</span>
<span class="t" style="left:68.4px;top:207.7px;font-size:15.2px;color:#343a4c;letter-spacing:0.9px;">11</span>
<span class="t" style="left:99.4px;top:207.7px;font-size:15.2px;color:#343a4c;letter-spacing:0.9px;">12</span>
<span class="t" style="left:131.4px;top:207.7px;font-size:15.2px;color:#343a4c;letter-spacing:0.9px;">13</span>
<span class="t" style="left:164.4px;top:207.7px;font-size:15.2px;color:#ffffff;font-weight:700;font-style:italic;">14</span>
<span class="t" style="left:193.4px;top:207.7px;font-size:15.2px;color:#343a4c;letter-spacing:0.9px;">15</span>
<span class="t" style="left:39.4px;top:236.7px;font-size:15.2px;color:#8a909e;letter-spacing:0.9px;">17</span>
<span class="t" style="left:68.4px;top:236.7px;font-size:15.2px;color:#343a4c;letter-spacing:0.9px;">18</span>
<span class="t" style="left:98.4px;top:236.7px;font-size:15.2px;color:#343a4c;letter-spacing:0.9px;">15</span>
<span class="t" style="left:131.4px;top:236.7px;font-size:15.2px;color:#343a4c;letter-spacing:0.9px;">20</span>
<span class="t" style="left:163.4px;top:236.7px;font-size:15.2px;color:#343a4c;letter-spacing:0.9px;">21</span>
<span class="t" style="left:193.4px;top:236.7px;font-size:15.2px;color:#343a4c;letter-spacing:0.9px;">22</span>
<div class="abs" style="left:24.2px;top:290.9px;width:204.8px;height:75.2px;border-radius:15px;background:#f6f6fd;box-shadow:0 4px 12px rgba(70,80,130,.035)"></div>
<p class="t" style="left:0;top:0"><span class="t" style="left:52.4px;top:309.7px;font-size:18.9px;color:#1a1d2b;letter-spacing:0.81px;-webkit-text-stroke:0.2px #1a1d2b;">Konec najmu</span> <span class="t" style="left:53.4px;top:334.7px;font-size:18.9px;color:#1a1d2b;letter-spacing:0.5px;-webkit-text-stroke:0.2px #1a1d2b;">zà 14 dnl</span></p>
</section>
<section class="card" style="left:1004.6px;top:541.2px;width:290.8px;height:206.4px;border-radius:20px">
<h2 class="t" style="left:28.4px;top:31.8px;font-size:24.4px;color:#10131f;letter-spacing:0.34px;-webkit-text-stroke:1.1px #10131f;">Posémnía</h2>
<span class="t" style="left:33.4px;top:87.8px;font-size:21.2px;color:#33415f;letter-spacing:0.13px;">Prìpomenutí odesláno</span>
<div class="rule" style="left:34.4px;top:127.4px;width:240px"></div>
<span class="t" style="left:32.4px;top:155.8px;font-size:21.2px;color:#2a3450;">Nová zprâva od Tomáŝe</span>
</section>
<section class="card" style="left:1004.6px;top:765.8px;width:290.8px;height:145.8px;border-radius:20px">
<svg class="abs" style="left:30.4px;top:26.2px" width="20" height="28" viewBox="0 0 20 28"><path d="M10.2 1.9 C5.8 1.9 3.3 5 3.3 9.4 V16.6 C3.3 17.8 2.8 18.4 2.2 19.2 C1.8 20.2 2.2 21 3.2 21 H17.2 C18.2 21 18.6 20.2 18.2 19.2 C17.6 18.4 17.1 17.8 17.1 16.6 V9.4 C17.1 5 14.6 1.9 10.2 1.9 Z" fill="#a3b1cd"/><ellipse cx="10.2" cy="19.5" rx="4.9" ry="1.25" fill="#fff" fill-opacity=".95"/><rect x="5.2" y="21" width="10" height="1.7" fill="#d3d9e9"/><path d="M6.6 22.9 H13 C12.4 24.6 11.6 25.3 9.8 25.3 C8.2 25.3 7.2 24.6 6.6 22.9 Z" fill="#8f9bbb"/></svg>
<span class="t" style="left:66.4px;top:29.2px;font-size:21.2px;color:#151825;letter-spacing:0.25px;">ìndivuz. pd</span>
<span class="t" style="left:233.4px;top:27.2px;font-size:21.2px;color:#3c5275;letter-spacing:2.84px;">2d</span>
<div class="rule" style="left:16.1px;top:68.5px;width:251.5px"></div>
<svg class="abs" style="left:30.4px;top:92.2px" width="24" height="26" viewBox="0 0 24 26"><rect x="2.1" y="2.2" width="18.7" height="22.6" rx="4.9" fill="#a3b1cd"/><path d="M12.5 4.6 C13.6 5.4 15 7 15.2 8.4 C15.2 9.2 14.6 9.4 13.8 9.3 V16.2 H11.2 V9.3 C10.4 9.4 9.8 9.2 9.8 8.4 C10 7 11.4 5.4 12.5 4.6 Z" fill="#fff"/><rect x="6.8" y="17.2" width="9.4" height="1.8" rx=".5" fill="#fff"/></svg>
<span class="t" style="left:64.4px;top:96.2px;font-size:21.2px;color:#151825;letter-spacing:0.56px;">Revize pdf</span>
<span class="t" style="left:232.4px;top:96.2px;font-size:21.2px;color:#3c5275;letter-spacing:3.04px;">5d</span>
</section>
</body>
</html>
